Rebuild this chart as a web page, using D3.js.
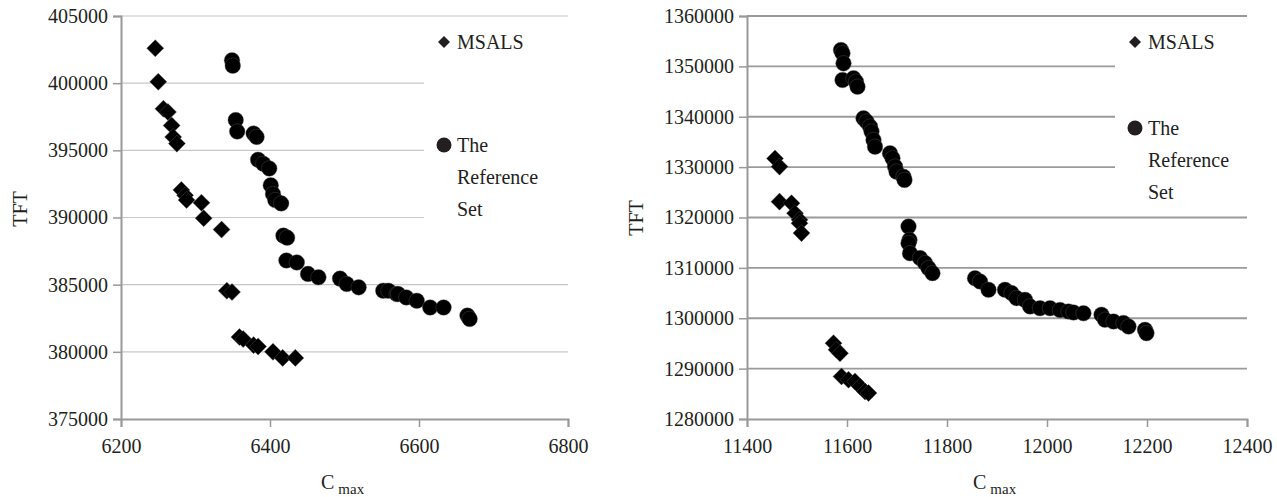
<!DOCTYPE html>
<html>
<head>
<meta charset="utf-8">
<script src="https://cdn.jsdelivr.net/npm/d3@7"></script>
<style>
  body { margin: 0; background: #fff; }
  svg { display: block; }
</style>
</head>
<body>
<div id="chart"></div>
<script>
// data: [Cmax, TFT]
var msalsLeft = [
    [6246, 402600], [6250, 400100], [6257, 398100], [6263, 397850], [6268, 396850],
    [6270, 396000], [6275, 395500], [6281, 392050], [6286, 391650], [6288, 391300],
    [6308, 391100], [6311, 389950], [6335, 389100], [6342, 384550], [6349, 384450],
    [6359, 381100], [6364, 380950], [6378, 380500], [6384, 380400], [6404, 380000],
    [6417, 379550], [6434, 379550]
];
var refLeft = [
    [6349, 401700], [6350, 401300], [6354, 397250], [6356, 396400], [6378, 396250],
    [6382, 396000], [6384, 394300], [6391, 394000], [6399, 393650], [6401, 392400],
    [6404, 391750], [6407, 391300], [6415, 391050], [6418, 388650], [6423, 388500],
    [6422, 386800], [6436, 386650], [6451, 385800], [6465, 385550], [6494, 385450],
    [6503, 385050], [6519, 384800], [6552, 384550], [6559, 384550], [6570, 384300],
    [6572, 384300], [6583, 384050], [6597, 383800], [6615, 383300], [6633, 383300],
    [6665, 382700], [6668, 382450]
];
var msalsRight = [
    [11456, 1331700], [11465, 1330100], [11465, 1323150], [11489, 1322850], [11496, 1320850],
    [11505, 1319550], [11505, 1318850], [11509, 1316900], [11573, 1295050], [11579, 1293750],
    [11586, 1293050], [11589, 1288450], [11603, 1287800], [11616, 1287450], [11626, 1286450],
    [11636, 1285450], [11643, 1285150]
];
var refRight = [
    [11588, 1353250], [11591, 1352600], [11593, 1350600], [11591, 1347300], [11613, 1347650],
    [11618, 1346950], [11621, 1345950], [11633, 1339700], [11639, 1339050], [11646, 1338050],
    [11649, 1337050], [11653, 1335400], [11656, 1334050], [11686, 1332750], [11691, 1331750],
    [11696, 1330100], [11699, 1329100], [11713, 1328100], [11715, 1327450], [11723, 1318200],
    [11725, 1315550], [11723, 1314900], [11726, 1312900], [11746, 1311950], [11756, 1310950],
    [11763, 1309950], [11771, 1308950], [11856, 1307950], [11866, 1307300], [11883, 1305650],
    [11916, 1305650], [11929, 1305000], [11939, 1304000], [11956, 1303650], [11966, 1302350],
    [11986, 1302000], [12006, 1302000], [12026, 1301650], [12043, 1301350], [12053, 1301150],
    [12073, 1301000], [12109, 1300700], [12116, 1299700], [12133, 1299350], [12153, 1299050],
    [12163, 1298350], [12196, 1297700], [12199, 1297050]
];
var leftXTicks = [6200, 6400, 6600, 6800];
var leftYTicks = [375000, 380000, 385000, 390000, 395000, 400000, 405000];
var rightXTicks = [11400, 11600, 11800, 12000, 12200, 12400];
var rightYTicks = [1280000, 1290000, 1300000, 1310000, 1320000, 1330000, 1340000, 1350000, 1360000];
var seriesNames = ["MSALS", ["The", "Reference", "Set"]];

var serifFont = "'Liberation Serif'";
var textC = "#231f20";

var svg = d3.select("#chart")
    .append("svg")
    .attr("width", 1277)
    .attr("height", 497);

var diamond = d3.symbol().type(d3.symbolSquare).size(145);

function panel(opt) {
    var x = d3.scaleLinear().domain(d3.extent(opt.xTicks)).range([opt.x0, opt.x1]);
    var y = d3.scaleLinear().domain(d3.extent(opt.yTicks)).range([opt.y1, opt.y0]);
    var g = svg.append("g");

    // gridlines
    g.selectAll("line.grid")
        .data(opt.yTicks.slice(1))
        .enter().append("line")
        .attr("x1", opt.x0).attr("x2", opt.x1)
        .attr("y1", d => y(d)).attr("y2", d => y(d))
        .attr("stroke", opt.gridC)
        .attr("stroke-width", opt.gridW);

    // legend box hides gridlines behind it
    g.append("rect")
        .attr("x", opt.lx - 20).attr("y", opt.y0 + 8)
        .attr("width", 160).attr("height", opt.lh)
        .attr("fill", "#fff");

    // axes
    var yAxis = d3.axisLeft(y).tickValues(opt.yTicks).tickSize(8).tickPadding(5).tickFormat(d3.format("d"));
    var xAxis = d3.axisBottom(x).tickValues(opt.xTicks).tickSize(8).tickPadding(12).tickFormat(d3.format("d"));
    var ya = g.append("g").attr("transform", "translate(" + opt.x0 + ",0)").call(yAxis);
    var xa = g.append("g").attr("transform", "translate(0," + opt.y1 + ")").call(xAxis);
    [ya, xa].forEach(function (a) {
        a.attr("font-family", null).attr("font-size", null);
        a.select(".domain").attr("stroke", "#999").attr("stroke-width", 2);
        a.selectAll(".tick line").attr("stroke", "#999").attr("stroke-width", 1.5);
        a.selectAll("text")
            .style("font-family", serifFont)
            .style("font-size", "20px")
            .attr("fill", textC);
    });

    // axis titles
    g.append("text")
        .attr("transform", "translate(" + opt.tx + "," + opt.ty + ") rotate(-90)")
        .attr("text-anchor", "middle")
        .style("font-family", serifFont).style("font-size", "20px").attr("fill", textC)
        .text("TFT");
    var ct = g.append("text")
        .attr("x", opt.cx).attr("y", 489)
        .style("font-family", serifFont).style("font-size", "20px").attr("fill", textC);
    ct.append("tspan").text("C");
    ct.append("tspan").attr("dx", 4).attr("dy", 5).style("font-size", "15px").text("max");

    // points
    g.selectAll("circle.ref")
        .data(opt.ref)
        .enter().append("circle")
        .attr("class", "ref")
        .attr("cx", d => x(d[0]))
        .attr("cy", d => y(d[1]))
        .attr("r", 7.8)
        .attr("fill", "#000")
        .attr("stroke", "#555")
        .attr("stroke-width", 0.4);
    g.selectAll("path.ms")
        .data(opt.ms)
        .enter().append("path")
        .attr("class", "ms")
        .attr("d", diamond)
        .attr("transform", d => "translate(" + x(d[0]) + "," + y(d[1]) + ") rotate(45)")
        .attr("fill", "#000")
        .attr("stroke", "#555")
        .attr("stroke-width", 0.4);

    // legend
    g.append("path")
        .attr("d", d3.symbol().type(d3.symbolSquare).size(72))
        .attr("transform", "translate(" + opt.lx + ",42) rotate(45)")
        .attr("fill", textC);
    g.append("text")
        .attr("x", opt.lx + 13).attr("y", 49)
        .style("font-family", serifFont).style("font-size", "20px").attr("fill", textC)
        .text(seriesNames[0]);
    g.append("circle")
        .attr("cx", opt.lx).attr("cy", opt.ly)
        .attr("r", 7.5)
        .attr("fill", textC);
    seriesNames[1].forEach(function (s, i) {
        g.append("text")
            .attr("x", opt.lx + 13).attr("y", opt.ly + 7 + i * 32)
            .style("font-family", serifFont).style("font-size", "20px").attr("fill", textC)
            .text(s);
    });
}

panel({
    x0: 121, x1: 568, y0: 16, y1: 419,
    xTicks: leftXTicks, yTicks: leftYTicks,
    ms: msalsLeft, ref: refLeft,
    gridC: "#c8c8c8", gridW: 1.2,
    lx: 444, ly: 145, lh: 236,
    tx: 27, ty: 209, cx: 321
});
panel({
    x0: 747, x1: 1247, y0: 16, y1: 419,
    xTicks: rightXTicks, yTicks: rightYTicks,
    ms: msalsRight, ref: refRight,
    gridC: "#9a9a9a", gridW: 1.8,
    lx: 1135, ly: 128, lh: 186,
    tx: 643, ty: 218, cx: 973
});
</script>
</body>
</html>
